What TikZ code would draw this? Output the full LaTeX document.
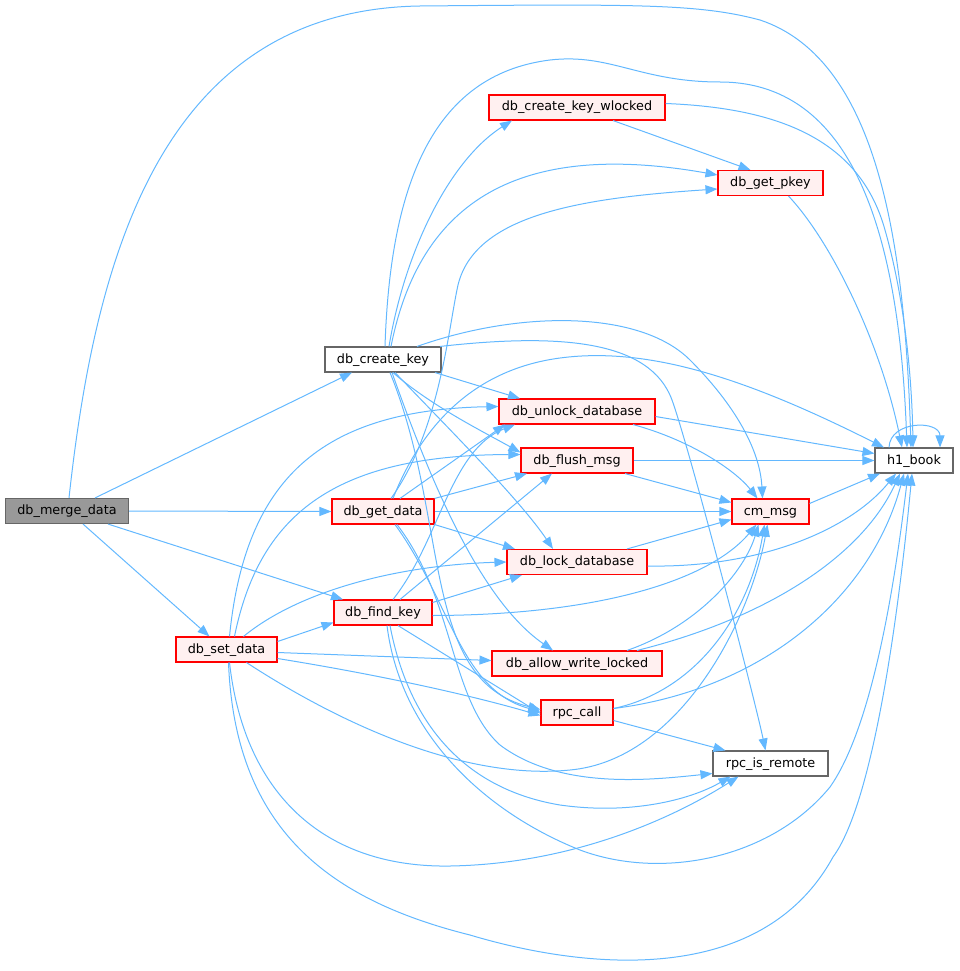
\documentclass[tikz,border=0pt]{standalone}
\usepackage{fontspec}
\setmainfont{DejaVu Sans}
\usetikzlibrary{arrows.meta}
\definecolor{edgec}{HTML}{63B8FF}
\definecolor{redb}{HTML}{FF0000}
\definecolor{redf}{HTML}{FFF0F0}
\definecolor{grayb}{HTML}{666666}
\definecolor{grayf}{HTML}{999999}
\tikzset{
  fnbox/.style={draw, line width=1.1pt, inner sep=0pt, minimum height=25pt,
    text height=9.6pt, text depth=2.6pt, font=\fontsize{12.8}{15}\selectfont},
  rednode/.style={fnbox, draw=redb, fill=redf},
  plainnode/.style={fnbox, draw=grayb, fill=white},
  rootnode/.style={fnbox, draw=grayb, fill=grayf},
  e/.style={draw=edgec, line width=1pt, -{Triangle[length=12pt,width=9pt]}},
}
\begin{document}
\begin{tikzpicture}[x=1pt,y=-1pt]
\useasboundingbox (0,0) rectangle (959,971);

\node[rootnode, minimum width=123pt]  (merge)   at (67,511)    {db\_merge\_data};
\node[plainnode, minimum width=116pt] (ckey)    at (383,359.5) {db\_create\_key};
\node[rednode, minimum width=102pt]   (gdata)   at (383,511.5) {db\_get\_data};
\node[rednode, minimum width=98pt]    (fkey)    at (383,612.5) {db\_find\_key};
\node[rednode, minimum width=101pt]   (sdata)   at (226.5,649.5) {db\_set\_data};
\node[rednode, minimum width=176pt]   (wlocked) at (577,107.5) {db\_create\_key\_wlocked};
\node[rednode, minimum width=105pt]   (pkey)    at (770.5,183) {db\_get\_pkey};
\node[rednode, minimum width=156pt]   (unlock)  at (577,411.5) {db\_unlock\_database};
\node[rednode, minimum width=112pt]   (flush)   at (577,460.5) {db\_flush\_msg};
\node[plainnode, minimum width=78pt]  (h1)      at (914,460.5) {h1\_book};
\node[rednode, minimum width=77pt]    (cm)      at (770.5,511.5) {cm\_msg};
\node[rednode, minimum width=140pt]   (lock)    at (577,562)   {db\_lock\_database};
\node[rednode, minimum width=170pt]   (allow)   at (577,663.5) {db\_allow\_write\_locked};
\node[rednode, minimum width=72pt]    (rpc)     at (577,712.5) {rpc\_call};
\node[plainnode, minimum width=115pt] (remote)  at (770.5,763.5) {rpc\_is\_remote};

% db_merge_data
\draw[e] ([xshift=2pt]merge.north) .. controls (95,260) and (160,10) .. (420,6)
  .. controls (640,4) and (700,4) .. (760,20) .. controls (880,60) and (905,250) .. ([xshift=-3pt]h1.north);
\draw[e] ([xshift=28pt]merge.north) -- ([xshift=-31pt]ckey.south);
\draw[e] (merge.east) -- (gdata.west);
\draw[e] ([xshift=41pt]merge.south) -- ([xshift=-40pt]fkey.north);
\draw[e] ([xshift=16pt]merge.south) -- ([xshift=-17pt]sdata.north);

% db_create_key
\draw[e] ([xshift=6pt]ckey.north) .. controls (405,250) and (450,160) .. ([xshift=-65pt]wlocked.south);
\draw[e] ([xshift=8pt]ckey.north) .. controls (420,200) and (520,140) .. ([yshift=8pt]pkey.west);
\draw[e] ([xshift=2pt]ckey.north) .. controls (390,190) and (430,75) .. (550,60)
  .. controls (610,53) and (640,82) .. (720,82) .. controls (860,82) and (900,250) .. ([xshift=-7pt]h1.north);
\draw[e] ([xshift=34pt]ckey.north) .. controls (520,310) and (640,310) .. (690,360)
  .. controls (735,405) and (760,450) .. ([xshift=-8pt]cm.north);
\draw[e] ([xshift=57pt]ckey.north) .. controls (560,333) and (650,340) .. (672,400)
  .. controls (690,450) and (755,700) .. ([xshift=-5pt]remote.north);
\draw[e] ([xshift=52pt]ckey.south) -- ([xshift=-57pt]unlock.north);
\draw[e] ([xshift=10pt]ckey.south) .. controls (430,405) and (480,430) .. ([yshift=8pt]flush.west);
\draw[e] ([xshift=12pt]ckey.south) .. controls (450,430) and (520,500) .. ([xshift=-24pt]lock.north);
\draw[e] ([xshift=9pt]ckey.south) .. controls (430,480) and (480,600) .. ([xshift=-24pt]allow.north);
\draw[e] ([xshift=7pt]ckey.south) .. controls (450,520) and (420,680) .. ([yshift=3pt]rpc.west);

% db_create_key_wlocked, db_get_pkey
\draw[e] ([xshift=36pt]wlocked.south) -- ([xshift=-20pt]pkey.north);
\draw[e] ([yshift=4pt]wlocked.east) .. controls (780,108) and (860,140) .. (885,230)
  .. controls (905,300) and (912,380) .. ([xshift=-1pt]h1.north);
\draw[e] ([xshift=18pt]pkey.south) .. controls (830,240) and (880,340) .. ([xshift=-12pt]h1.north);

% db_get_data
\draw[e] ([xshift=8pt]gdata.north) .. controls (440,430) and (448,330) .. (458,285)
  .. controls (475,215) and (580,198) .. ([yshift=-6pt]pkey.west);
\draw[e] ([xshift=10pt]gdata.north) .. controls (420,430) and (470,370) .. (560,358)
  .. controls (650,346) and (750,380) .. ([xshift=-30pt]h1.north);
\draw[e] ([xshift=17pt]gdata.north) -- ([xshift=-72pt]unlock.south);
\draw[e] (gdata.north east) -- ([xshift=-50pt]flush.south);
\draw[e] (gdata.east) -- (cm.west);
\draw[e] (gdata.south east) -- ([xshift=-62pt]lock.north);
\draw[e] ([xshift=12pt]gdata.south) .. controls (450,600) and (460,690) .. ([yshift=1pt]rpc.west);
\draw[e] ([xshift=14pt]gdata.south) .. controls (455,600) and (450,700) .. (500,745)
  .. controls (560,790) and (650,780) .. ([yshift=-10pt]remote.west);

% db_find_key
\draw[e] ([xshift=10pt]fkey.north) .. controls (440,540) and (450,450) .. ([xshift=-62pt]unlock.south);
\draw[e] ([xshift=17pt]fkey.north) -- ([xshift=-25pt]flush.south);
\draw[e] ([yshift=10pt]fkey.east) -- ([xshift=-55pt]lock.south);
\draw[e] ([yshift=-3pt]fkey.east) .. controls (600,615) and (710,580) .. ([xshift=-14pt]cm.south);
\draw[e] ([xshift=15pt]fkey.south) -- ([yshift=-1pt]rpc.west);
\draw[e] ([xshift=7pt]fkey.south) .. controls (410,730) and (470,790) .. (560,805)
  .. controls (630,815) and (690,800) .. ([xshift=-40pt]remote.south);
\draw[e] ([xshift=4pt]fkey.south) .. controls (400,730) and (480,810) .. (580,850)
  .. controls (660,880) and (770,860) .. (830,787) .. controls (870,730) and (893,600) .. ([xshift=-6pt]h1.south);

% db_set_data
\draw[e] ([yshift=8pt]sdata.east) -- ([yshift=-10pt]fkey.west);
\draw[e] ([xshift=3pt]sdata.north) .. controls (245,480) and (320,410) .. ([yshift=5pt]unlock.west);
\draw[e] ([xshift=8pt]sdata.north) .. controls (260,510) and (340,455) .. ([yshift=6pt]flush.west);
\draw[e] ([xshift=17pt]sdata.north) .. controls (300,590) and (400,565) .. (lock.west);
\draw[e] ([yshift=-3pt]sdata.east) -- ([yshift=3pt]allow.west);
\draw[e] ([yshift=-9pt]sdata.east) .. controls (380,675) and (470,695) .. ([yshift=-3pt]rpc.west);
\draw[e] ([xshift=20pt]sdata.south) .. controls (350,730) and (470,780) .. (570,770)
  .. controls (680,760) and (750,620) .. ([xshift=-3pt]cm.south);
\draw[e] ([xshift=3pt]sdata.south) .. controls (245,800) and (330,868) .. (450,866)
  .. controls (570,864) and (670,820) .. ([xshift=-32pt]remote.south);
\draw[e] ([xshift=2pt]sdata.south) .. controls (235,830) and (330,900) .. (470,935)
  .. controls (580,968) and (760,990) .. (833,857) .. controls (875,800) and (900,600) .. ([xshift=-2pt]h1.south);

% second level
\draw[e] ([xshift=56pt]unlock.south) .. controls (690,440) and (735,470) .. ([xshift=-13pt]cm.north);
\draw[e] ([yshift=-5pt]unlock.east) -- ([yshift=7pt]h1.west);
\draw[e] (flush.east) -- (h1.west);
\draw[e] ([xshift=48pt]flush.south) -- ([yshift=9pt]cm.west);
\draw[e] ([xshift=50pt]lock.north) -- ([yshift=-8pt]cm.west);
\draw[e] ([yshift=-4pt]lock.east) .. controls (760,568) and (850,530) .. ([xshift=-18pt]h1.south);
\draw[e] ([yshift=8pt]cm.east) -- ([xshift=-34pt]h1.south);
\draw[e] ([xshift=50pt]allow.north) .. controls (700,625) and (745,570) .. ([xshift=-12pt]cm.south);
\draw[e] ([xshift=60pt]allow.north) .. controls (760,620) and (860,560) .. ([xshift=-14pt]h1.south);
\draw[e] ([yshift=4pt]rpc.east) .. controls (700,690) and (750,610) .. ([xshift=-6pt]cm.south);
\draw[e] ([yshift=4pt]rpc.east) .. controls (760,690) and (870,600) .. ([xshift=-10pt]h1.south);
\draw[e] ([yshift=-8pt]rpc.east) -- ([xshift=-45pt]remote.north);
\draw[e] ([xshift=-25pt]h1.north) .. controls (890,420) and (940,420) .. ([xshift=26pt]h1.north);
\end{tikzpicture}
\end{document}
